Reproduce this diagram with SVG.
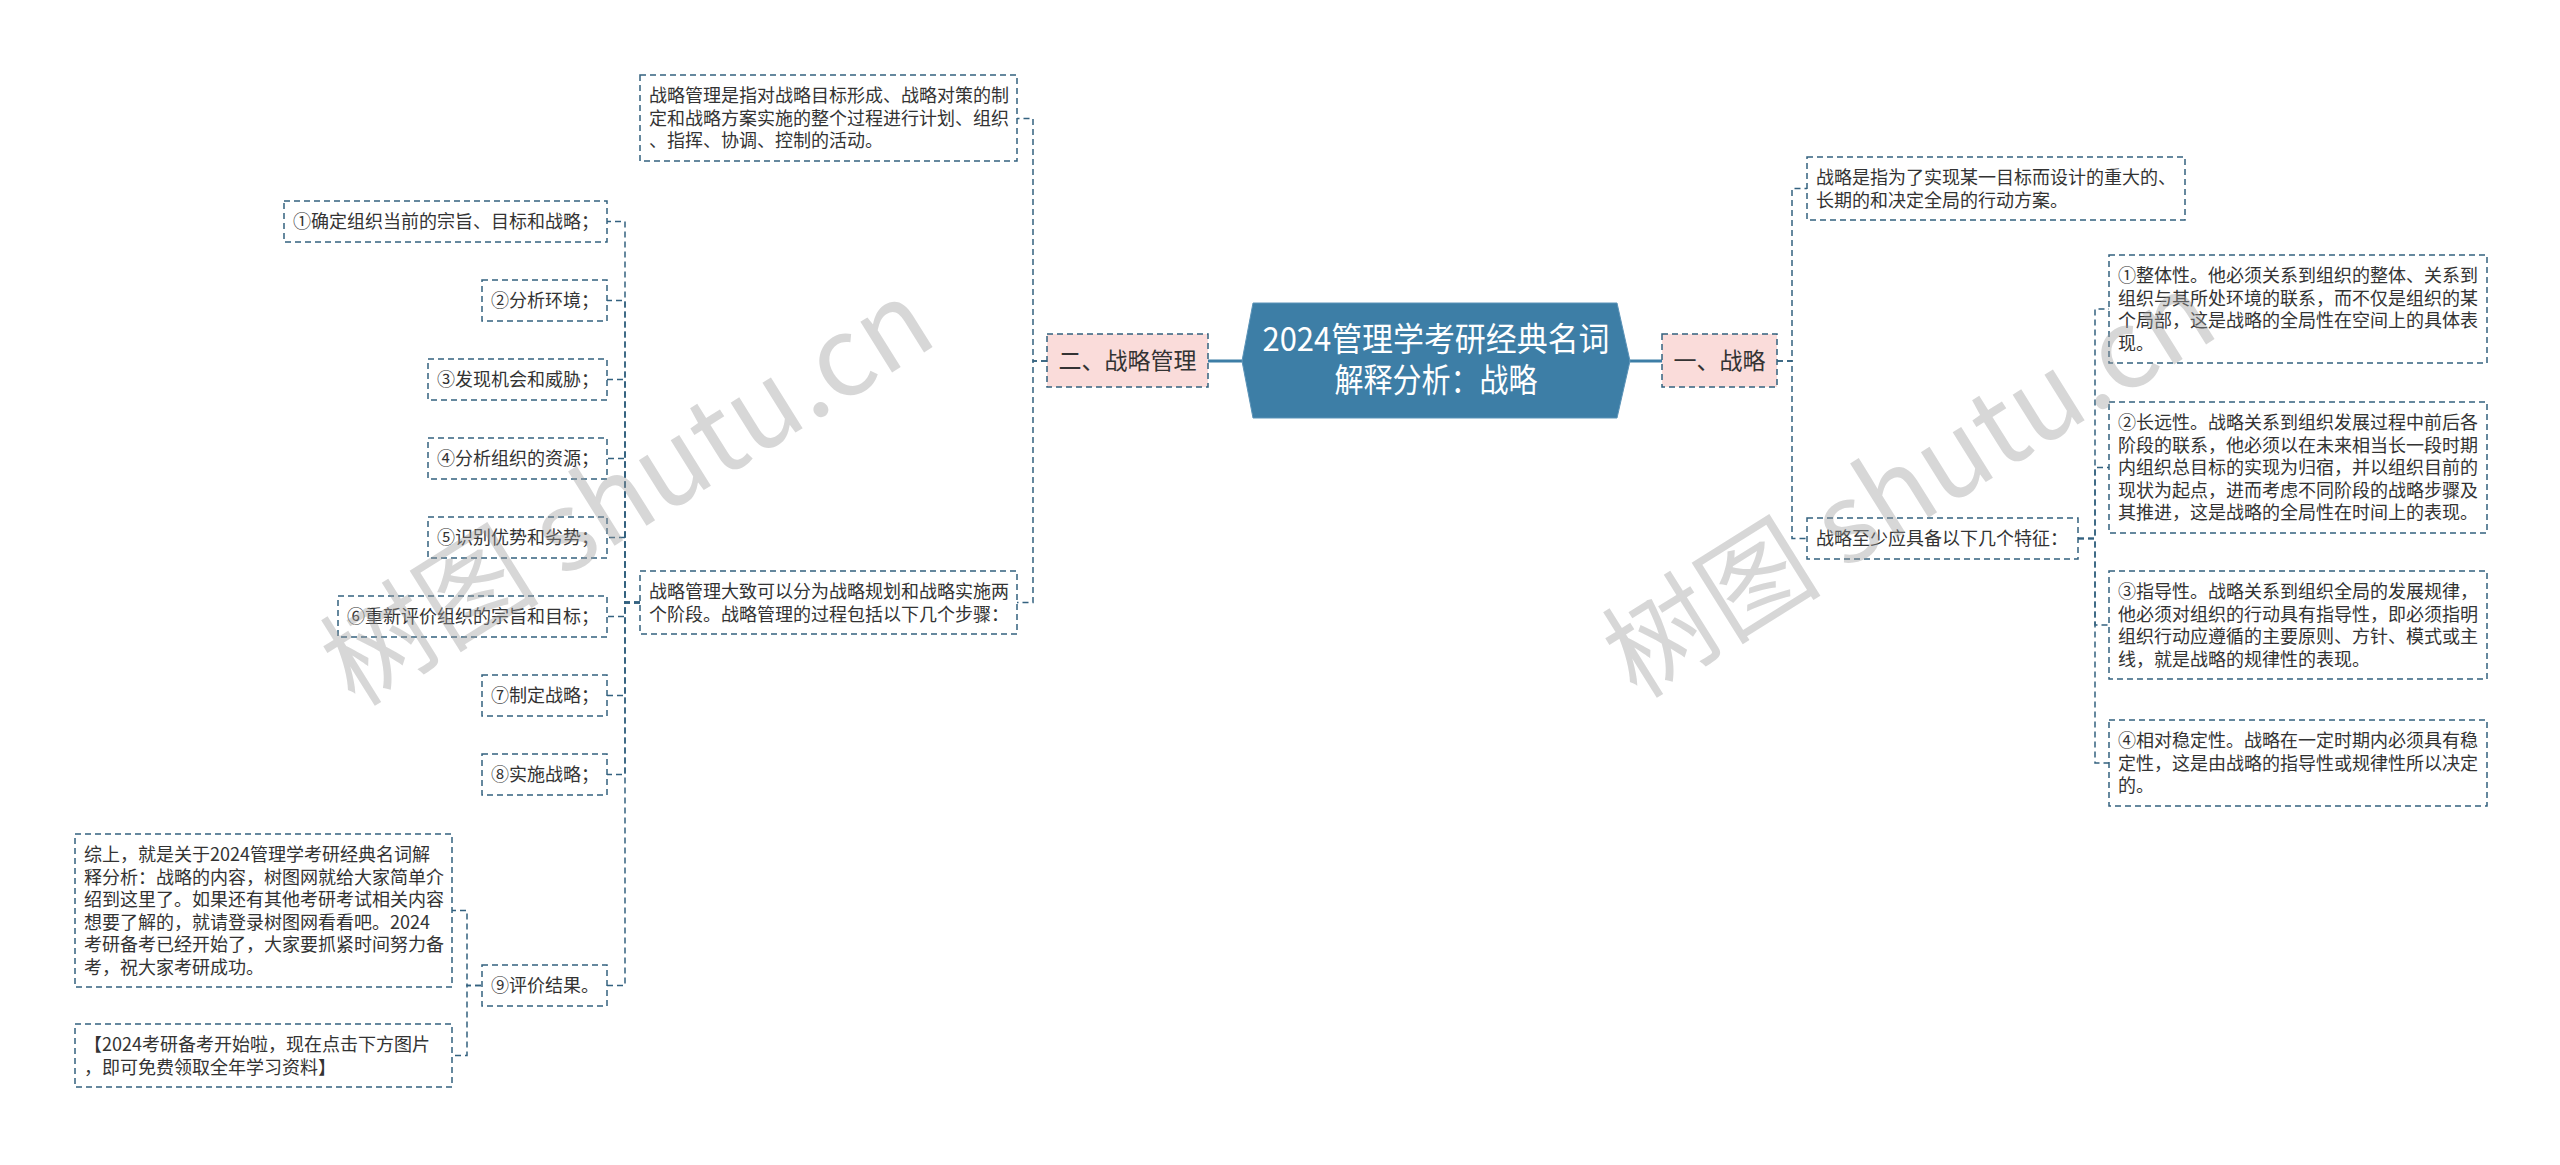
<svg xmlns="http://www.w3.org/2000/svg" width="2560" height="1165" viewBox="0 0 2560 1165">
<style>
.bg{fill:#ffffff}
.box{fill:#ffffff;stroke:#33617f;stroke-width:1.5;stroke-dasharray:6 4}
.pink{fill:#fadcda;stroke:#33617f;stroke-width:1.5;stroke-dasharray:6 4}
.t{font-family:"Noto Sans CJK SC","Noto Sans",sans-serif;font-size:18px;fill:#333333}
.t2{font-family:"Noto Sans CJK SC","Noto Sans",sans-serif;font-size:23px;fill:#333333;text-anchor:middle}
.title{font-family:"Noto Sans CJK SC","Noto Sans",sans-serif;font-size:33px;fill:#ffffff;text-anchor:middle}
.conn{fill:none;stroke:#33617f;stroke-width:1.5;stroke-dasharray:6 4}
.main{fill:none;stroke:#3d7ea6;stroke-width:3}
.wm{font-family:"Noto Sans CJK SC","Noto Sans",sans-serif;font-size:110px;fill:#9a9a9a;fill-opacity:0.4}
</style>
<rect class="bg" x="0" y="0" width="2560" height="1165"/>
<g id="connectors">
<path class="main" d="M1242 361H1208"/>
<path class="main" d="M1630 361H1662"/>
<path class="conn" d="M1047 361H1033V118.5H1017"/>
<path class="conn" d="M1047 361H1033V602.5H1017"/>
<path class="conn" d="M640 602.5H625V221.5H607"/>
<path class="conn" d="M640 602.5H625V300.5H607"/>
<path class="conn" d="M640 602.5H625V379.5H607"/>
<path class="conn" d="M640 602.5H625V458.5H607"/>
<path class="conn" d="M640 602.5H625V537.5H607"/>
<path class="conn" d="M640 602.5H625V616.5H607"/>
<path class="conn" d="M640 602.5H625V695.5H607"/>
<path class="conn" d="M640 602.5H625V774.5H607"/>
<path class="conn" d="M640 602.5H625V985.5H607"/>
<path class="conn" d="M481 985.5H467V910.5H452"/>
<path class="conn" d="M481 985.5H467V1055.5H452"/>
<path class="conn" d="M1777 361H1792V188.5H1807"/>
<path class="conn" d="M1777 361H1792V538.5H1807"/>
<path class="conn" d="M2078 538.5H2095V309H2109"/>
<path class="conn" d="M2078 538.5H2095V467.5H2109"/>
<path class="conn" d="M2078 538.5H2095V625H2109"/>
<path class="conn" d="M2078 538.5H2095V763H2109"/>
</g>
<g id="center">
<polygon points="1253,303 1617,303 1630,361 1617,418 1253,418 1242,361" fill="#3d7ea6" stroke="#5b93b8" stroke-width="1"/>
<text class="title" x="1436" y="351" textLength="347" lengthAdjust="spacingAndGlyphs">2024管理学考研经典名词</text>
<text class="title" x="1436" y="392" textLength="203" lengthAdjust="spacingAndGlyphs">解释分析：战略</text>
</g>
<g id="n-zlgl">
<rect class="pink" x="1047" y="334" width="161" height="53"/>
<text class="t2" x="1127.5" y="369">二、战略管理</text>
</g>
<g id="n-zl">
<rect class="pink" x="1662" y="334" width="115" height="53"/>
<text class="t2" x="1719.5" y="369">一、战略</text>
</g>
<g id="n-l0">
<rect class="box" x="640" y="75" width="377" height="86"/>
<text class="t" x="649" y="102">战略管理是指对战略目标形成、战略对策的制</text>
<text class="t" x="649" y="124.5">定和战略方案实施的整个过程进行计划、组织</text>
<text class="t" x="649" y="147">、指挥、协调、控制的活动。</text>
</g>
<g id="n-l1">
<rect class="box" x="640" y="571" width="377" height="63"/>
<text class="t" x="649" y="598">战略管理大致可以分为战略规划和战略实施两</text>
<text class="t" x="649" y="620.5">个阶段。战略管理的过程包括以下几个步骤：</text>
</g>
<g id="s1">
<rect class="box" x="284" y="201" width="323" height="41"/>
<text class="t" x="293" y="228">①确定组织当前的宗旨、目标和战略；</text>
</g>
<g id="s2">
<rect class="box" x="482" y="280" width="125" height="41"/>
<text class="t" x="491" y="307">②分析环境；</text>
</g>
<g id="s3">
<rect class="box" x="428" y="359" width="179" height="41"/>
<text class="t" x="437" y="386">③发现机会和威胁；</text>
</g>
<g id="s4">
<rect class="box" x="428" y="438" width="179" height="41"/>
<text class="t" x="437" y="465">④分析组织的资源；</text>
</g>
<g id="s5">
<rect class="box" x="428" y="517" width="179" height="41"/>
<text class="t" x="437" y="544">⑤识别优势和劣势；</text>
</g>
<g id="s6">
<rect class="box" x="338" y="596" width="269" height="41"/>
<text class="t" x="347" y="623">⑥重新评价组织的宗旨和目标；</text>
</g>
<g id="s7">
<rect class="box" x="482" y="675" width="125" height="41"/>
<text class="t" x="491" y="702">⑦制定战略；</text>
</g>
<g id="s8">
<rect class="box" x="482" y="754" width="125" height="41"/>
<text class="t" x="491" y="781">⑧实施战略；</text>
</g>
<g id="s9">
<rect class="box" x="482" y="965" width="125" height="41"/>
<text class="t" x="491" y="992">⑨评价结果。</text>
</g>
<g id="n-summary">
<rect class="box" x="75" y="834" width="377" height="153"/>
<text class="t" x="84" y="861">综上，就是关于2024管理学考研经典名词解</text>
<text class="t" x="84" y="883.5">释分析：战略的内容，树图网就给大家简单介</text>
<text class="t" x="84" y="906">绍到这里了。如果还有其他考研考试相关内容</text>
<text class="t" x="84" y="928.5">想要了解的，就请登录树图网看看吧。2024</text>
<text class="t" x="84" y="951">考研备考已经开始了，大家要抓紧时间努力备</text>
<text class="t" x="84" y="973.5">考，祝大家考研成功。</text>
</g>
<g id="n-promo">
<rect class="box" x="75" y="1024" width="377" height="63"/>
<text class="t" x="84" y="1051">【2024考研备考开始啦，现在点击下方图片</text>
<text class="t" x="84" y="1073.5">，即可免费领取全年学习资料】</text>
</g>
<g id="n-r0">
<rect class="box" x="1807" y="157" width="378" height="63"/>
<text class="t" x="1816" y="184">战略是指为了实现某一目标而设计的重大的、</text>
<text class="t" x="1816" y="206.5">长期的和决定全局的行动方案。</text>
</g>
<g id="n-r1">
<rect class="box" x="1807" y="518" width="271" height="41"/>
<text class="t" x="1816" y="545">战略至少应具备以下几个特征：</text>
</g>
<g id="f1">
<rect class="box" x="2109" y="255" width="378" height="108"/>
<text class="t" x="2118" y="282">①整体性。他必须关系到组织的整体、关系到</text>
<text class="t" x="2118" y="304.5">组织与其所处环境的联系，而不仅是组织的某</text>
<text class="t" x="2118" y="327">个局部，这是战略的全局性在空间上的具体表</text>
<text class="t" x="2118" y="349.5">现。</text>
</g>
<g id="f2">
<rect class="box" x="2109" y="402" width="378" height="131"/>
<text class="t" x="2118" y="429">②长远性。战略关系到组织发展过程中前后各</text>
<text class="t" x="2118" y="451.5">阶段的联系，他必须以在未来相当长一段时期</text>
<text class="t" x="2118" y="474">内组织总目标的实现为归宿，并以组织目前的</text>
<text class="t" x="2118" y="496.5">现状为起点，进而考虑不同阶段的战略步骤及</text>
<text class="t" x="2118" y="519">其推进，这是战略的全局性在时间上的表现。</text>
</g>
<g id="f3">
<rect class="box" x="2109" y="571" width="378" height="108"/>
<text class="t" x="2118" y="598">③指导性。战略关系到组织全局的发展规律，</text>
<text class="t" x="2118" y="620.5">他必须对组织的行动具有指导性，即必须指明</text>
<text class="t" x="2118" y="643">组织行动应遵循的主要原则、方针、模式或主</text>
<text class="t" x="2118" y="665.5">线，就是战略的规律性的表现。</text>
</g>
<g id="f4">
<rect class="box" x="2109" y="720" width="378" height="86"/>
<text class="t" x="2118" y="747">④相对稳定性。战略在一定时期内必须具有稳</text>
<text class="t" x="2118" y="769.5">定性，这是由战略的指导性或规律性所以决定</text>
<text class="t" x="2118" y="792">的。</text>
</g>
<g id="watermark">
<text class="wm" transform="translate(355,708) rotate(-32)">树图 shutu.cn</text>
<text class="wm" transform="translate(1637,700) rotate(-32)">树图 shutu.cn</text>
</g>
</svg>
